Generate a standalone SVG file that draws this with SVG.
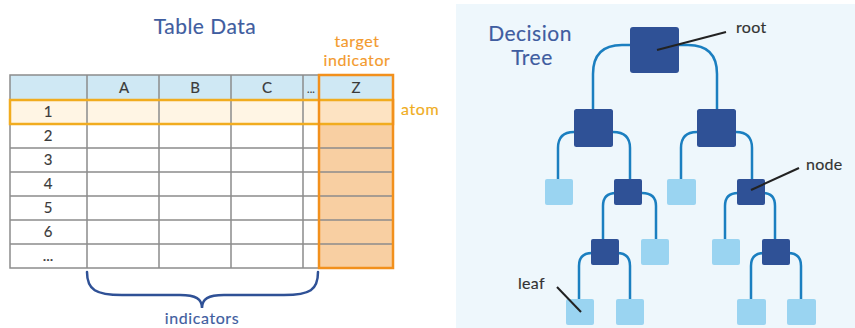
<svg xmlns="http://www.w3.org/2000/svg" width="855" height="328" viewBox="0 0 855 328">
  <defs>
    <style>
      text { font-family: Lato, "Liberation Sans", sans-serif; stroke-width: 0.15px; }
      .title { font-size: 21px; letter-spacing: 0.5px; fill: #3f5da0; stroke: #3f5da0; text-anchor: middle; }
      .cell { font-size: 15px; fill: #3a3a3a; stroke: #3a3a3a; text-anchor: middle; }
      .orange { font-size: 16px; letter-spacing: 0.6px; fill: #f39a2e; stroke: #f39a2e; text-anchor: middle; }
      .gold { font-size: 16px; letter-spacing: 0.6px; fill: #f0ad1e; stroke: #f0ad1e; }
      .blue { font-size: 16px; letter-spacing: 0.6px; fill: #3f5da0; stroke: #3f5da0; text-anchor: middle; }
      .lbl { font-size: 16px; letter-spacing: 0.3px; fill: #333; stroke: #333; }
      .grid { stroke: #8c8c8c; stroke-width: 1.5; fill: none; }
      .edge { stroke: #1b7fc0; stroke-width: 2.5; fill: none; }
      .pointer { stroke: #222; stroke-width: 2; fill: none; }
      .inner { fill: #2f5196; }
      .leaf { fill: #9ad4f1; }
    </style>
  </defs>

  <rect width="855" height="328" fill="#ffffff"/>

  <!-- Table data panel -->
  <g id="table">
    <text class="title" x="205" y="34">Table Data</text>
    <text class="orange" x="357" y="47">target</text>
    <text class="orange" x="357" y="66">indicator</text>

    <!-- header row -->
    <rect x="10" y="75" width="383" height="25" fill="#cfe8f4"/>
    <!-- row 1 (atom) -->
    <rect x="10" y="100" width="309" height="24" fill="#fff5e4"/>
    <rect x="319" y="100" width="74" height="24" fill="#fde3c2"/>
    <!-- target column -->
    <rect x="319" y="124" width="74" height="144" fill="#f8cfa2"/>

    <!-- grid -->
    <g class="grid">
      <rect x="10" y="75" width="383" height="193"/>
      <path d="M10,100 H393 M10,124 H393 M10,148 H393 M10,172 H393 M10,196 H393 M10,220 H393 M10,244 H393"/>
      <path d="M87,75 V268 M159,75 V268 M231,75 V268 M303,75 V268 M319,75 V268"/>
    </g>

    <!-- atom outline -->
    <rect x="10" y="100" width="383" height="24" fill="none" stroke="#f1ac1f" stroke-width="2.5"/>
    <!-- target indicator outline -->
    <rect x="319" y="75" width="74" height="193" fill="none" stroke="#f2901c" stroke-width="2.5"/>

    <text class="cell" x="124" y="93">A</text>
    <text class="cell" x="195" y="93">B</text>
    <text class="cell" x="267" y="93">C</text>
    <text class="cell" x="311" y="93" style="font-size:11px">...</text>
    <text class="cell" x="356" y="93">Z</text>

    <text class="cell" x="48" y="117">1</text>
    <text class="cell" x="48" y="141">2</text>
    <text class="cell" x="48" y="165">3</text>
    <text class="cell" x="48" y="189">4</text>
    <text class="cell" x="48" y="213">5</text>
    <text class="cell" x="48" y="237">6</text>
    <text class="cell" x="48" y="261">...</text>

    <text class="gold" x="401" y="115">atom</text>

    <!-- brace under the indicator columns -->
    <path d="M87,272 C87,290 96,295 122,295 H180 C196,295 202,299 202,308 C202,299 208,295 224,295 H284 C310,295 318,290 318,272" fill="none" stroke="#2f5196" stroke-width="2.5" stroke-linecap="round"/>
    <text class="blue" x="202" y="324">indicators</text>
  </g>

  <!-- Decision tree panel -->
  <rect x="456" y="4" width="399" height="324" fill="#eef7fc"/>
  <text class="title" x="530" y="41">Decision</text>
  <text class="title" x="532" y="65">Tree</text>

  <g id="connectors">
    <!-- root -->
    <path class="edge" d="M654,45 H622 Q593,45 593,74 V112"/>
    <path class="edge" d="M654,45 H688 Q717,45 717,74 V112"/>
    <!-- level 2 left -->
    <path class="edge" d="M593,132 H574 Q558,132 558,148 V182"/>
    <path class="edge" d="M593,132 H613 Q630,132 630,148 V182"/>
    <!-- level 2 right -->
    <path class="edge" d="M716,132 H697 Q681,132 681,148 V182"/>
    <path class="edge" d="M716,132 H736 Q752,132 752,148 V182"/>
    <!-- level 3 nodes -->
    <path class="edge" d="M628,193 H616 Q603,193 603,206 V242"/>
    <path class="edge" d="M628,193 H642 Q656,193 656,206 V242"/>
    <path class="edge" d="M751,193 H738 Q725,193 725,206 V242"/>
    <path class="edge" d="M751,193 H763 Q775,193 775,206 V242"/>
    <!-- level 4 nodes -->
    <path class="edge" d="M605,253 H592 Q579,253 579,266 V302"/>
    <path class="edge" d="M605,253 H617 Q630,253 630,266 V302"/>
    <path class="edge" d="M776,253 H764 Q751,253 751,266 V302"/>
    <path class="edge" d="M776,253 H788 Q801,253 801,266 V302"/>
  </g>

  <g id="root"><rect class="inner" x="630" y="27" width="49" height="46" rx="3"/></g>
  <g id="n-l"><rect class="inner" x="574" y="109" width="39" height="38" rx="2.5"/></g>
  <g id="n-r"><rect class="inner" x="697" y="109" width="39" height="38" rx="2.5"/></g>

  <g id="leaf-ll"><rect class="leaf" x="545" y="179" width="28" height="26" rx="2"/></g>
  <g id="n-lr"><rect class="inner" x="614" y="179" width="28" height="26" rx="2"/></g>
  <g id="leaf-rl"><rect class="leaf" x="667" y="179" width="29" height="26" rx="2"/></g>
  <g id="n-rr"><rect class="inner" x="737" y="179" width="28" height="26" rx="2"/></g>

  <g id="n-lrl"><rect class="inner" x="591" y="239" width="28" height="26" rx="2"/></g>
  <g id="leaf-lrr"><rect class="leaf" x="641" y="239" width="28" height="26" rx="2"/></g>
  <g id="leaf-rrl"><rect class="leaf" x="712" y="239" width="28" height="26" rx="2"/></g>
  <g id="n-rrr"><rect class="inner" x="762" y="239" width="28" height="26" rx="2"/></g>

  <g id="leaf-lrll"><rect class="leaf" x="566" y="299" width="28" height="26" rx="2"/></g>
  <g id="leaf-lrlr"><rect class="leaf" x="616" y="299" width="28" height="26" rx="2"/></g>
  <g id="leaf-rrrl"><rect class="leaf" x="737" y="299" width="29" height="26" rx="2"/></g>
  <g id="leaf-rrrr"><rect class="leaf" x="787" y="299" width="29" height="26" rx="2"/></g>

  <!-- callout labels -->
  <g id="labels">
    <path class="pointer" d="M657,50 L726,32"/>
    <text class="lbl" x="736" y="33">root</text>
    <path class="pointer" d="M751,190 L799,168"/>
    <text class="lbl" x="806" y="170">node</text>
    <path class="pointer" d="M557,287 L581,312"/>
    <text class="lbl" x="518" y="289">leaf</text>
  </g>
</svg>
